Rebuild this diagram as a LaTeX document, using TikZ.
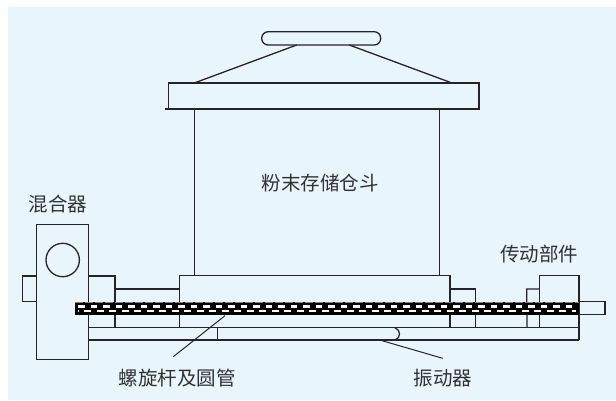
\documentclass[tikz,border=0pt]{standalone}
\usepackage{fontspec}
\newfontfamily\cjk{Noto Sans CJK SC}
\definecolor{panel}{RGB}{233,245,252}
\definecolor{ink}{RGB}{38,36,38}
\definecolor{txt}{RGB}{50,50,50}
\begin{document}
\begin{tikzpicture}[x=1pt,y=-1pt,
  part/.style={draw=ink,line width=1.3pt},
  lbl/.style={text=txt,font=\cjk\fontsize{19.5}{22}\selectfont,inner sep=0pt},
  leader/.style={draw=ink,line width=1pt}]
\useasboundingbox (0,0) rectangle (616,400);
\fill[white] (0,0) rectangle (616,400);
\fill[panel] (8,7) rectangle (616,400);

% hopper: knob, roof, lid, body
\draw[part,rounded corners=6.5pt] (261.7,31.7) rectangle (380.7,45);
\coordinate (knobL) at (296.7,45);
\coordinate (knobR) at (349.3,45);
\coordinate (lidL) at (194.3,83);
\coordinate (lidR) at (452,83);
\draw[part] (knobL) -- (lidL);
\draw[part] (knobR) -- (lidR);
\draw[part] (168.3,83) rectangle (479,109);
\draw[part] (165,109) -- (168.3,109);
\draw[part] (194.3,109) -- (194.3,275.5);
\draw[part] (439.3,109) -- (439.3,275.5);

% base under the hopper and side blocks
\draw[part] (179.3,327.7) -- (179.3,275.5) -- (450,275.5) -- (450,327.7);
\draw[part] (88.3,276) -- (115,276) -- (115,327.7);
\draw[part] (115,289) -- (179.3,289);
\draw[part] (450,289) -- (475.7,289) -- (475.7,327.7);

% mixer
\draw[part,fill=panel] (36.7,224.3) rectangle (88.3,359.3);
\draw[part] (62.7,260) circle (16.7);
\draw[part] (36.7,276) -- (22.7,276) -- (22.7,301.7) -- (36.7,301.7);

% drive unit
\draw[part] (527,327.7) -- (526.7,289) -- (539.5,289);
\draw[part] (539.5,327.7) -- (539.5,275.7) -- (579,275.7) -- (579,340);
\draw[part] (579,301.5) rectangle (605,314.3);

% tube lines and vibrator
\draw[part] (88.3,327.7) -- (579,327.7);
\draw[part] (88.3,340) -- (579,340);
\draw[part] (217.7,327.7) -- (217.7,340);
\draw[part] (395,327.7) .. controls (401,330) and (401,338) .. (395,340);

% screw shaft
\fill[black] (75,301.8) rectangle (579,314.6);
\draw[gray,line width=0.6pt,dash pattern=on 8pt off 2pt] (75,302.4) -- (579,302.4);
\draw[white,line width=2.6pt,dash pattern=on 6.8pt off 5.7pt] (78,306.3) -- (576,306.3);
\draw[white,line width=2.6pt,dash pattern=on 6.8pt off 5.7pt,dash phase=-6.25pt] (78,310.9) -- (576,310.9);

% labels and leaders
\node[lbl] (hopper) at (320,183) {粉末存储仓斗};
\node[lbl] (mixer) at (58,204) {混合器};
\node[lbl] (drive) at (539,254) {传动部件};
\node[lbl] (screw) at (177,378) {螺旋杆及圆管};
\node[lbl] (vib) at (443,378) {振动器};
\coordinate (screwTip) at (225,315.7);
\coordinate (screwFoot) at (173.3,356.7);
\coordinate (vibTip) at (378,339.5);
\coordinate (vibFoot) at (442.7,358.3);
\draw[leader] (screwFoot) -- (screwTip);
\draw[leader] (vibFoot) -- (vibTip);
\end{tikzpicture}
\end{document}
